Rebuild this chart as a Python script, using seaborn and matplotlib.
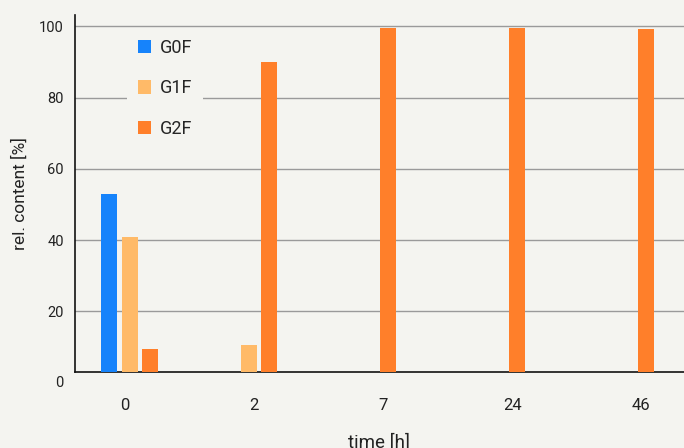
import numpy as np
import pandas as pd
import matplotlib
matplotlib.use('Agg')
import matplotlib.pyplot as plt
import matplotlib.transforms as mtransforms
import seaborn as sns

# data
times = ['0', '2', '7', '24', '46']
series = ['G0F', 'G1F', 'G2F']
g0f = [53.0, np.nan, np.nan, np.nan, np.nan]
g1f = [41.0, 10.7, np.nan, np.nan, np.nan]
g2f = [9.6, 90.0, 99.5, 99.5, 99.2]
colors = ['#1683fb', '#ffba68', '#ff7f2a']
bg = '#f4f4f0'

# long table, bars of each group centred on the group position
step = 0.159
rows = []
for i, t in enumerate(times):
    present = [(s, v[i]) for s, v in zip(series, [g0f, g1f, g2f]) if not np.isnan(v[i])]
    n = len(present)
    for k, (s, v) in enumerate(present):
        rows.append({'pos': i + 0.035 + (k - (n - 1) / 2) * step, 'series': s, 'value': v})
df = pd.DataFrame(rows)

sns.set_theme(style='white')
plt.rcParams['font.family'] = ['Roboto', 'DejaVu Sans']

fig = plt.figure(figsize=(6.84, 4.48), dpi=100, facecolor=bg)
ax = fig.add_axes([0.1096, 0.1696, 0.8904, 0.797])
ax.set_facecolor(bg)

sns.barplot(data=df, x='pos', y='value', hue='series', hue_order=series,
            palette=colors, native_scale=True, dodge=False, width=0.124 / step,
            saturation=1, linewidth=0, ax=ax, zorder=3)

ax.set_ylim(3, 103.2)
ax.set_xlim(-0.39, 4.33)
ax.set_yticks([20, 40, 60, 80, 100])
ax.set_xticks(range(len(times)))
ax.set_xticklabels(times)
ax.yaxis.grid(True, color='#9a9a9a', linewidth=1)
ax.set_axisbelow(True)
ax.tick_params(axis='y', length=0, pad=8, labelsize=10.5, colors='#222222')
ax.tick_params(axis='x', length=0, pad=19, labelsize=12, colors='#222222')
for side in ['top', 'right']:
    ax.spines[side].set_visible(False)
for side in ['left', 'bottom']:
    ax.spines[side].set_color('#111111')
    ax.spines[side].set_linewidth(1.2)

# zero label sits below the clipped baseline
zero_tr = mtransforms.offset_copy(ax.get_yaxis_transform(), fig=fig, x=-8, units='points')
ax.text(0, 0, '0', transform=zero_tr, ha='right', va='center',
        fontsize=10.5, color='#222222', clip_on=False)

ax.set_xlabel('time [h]', fontsize=13.5, labelpad=14, color='#222222')
ax.set_ylabel('rel. content [%]', fontsize=12.5, labelpad=8, color='#222222')

leg = ax.legend(loc='upper left', bbox_to_anchor=(0.085, 0.964), borderaxespad=0,
                frameon=True, facecolor=bg, edgecolor='none', framealpha=1,
                fontsize=13, labelspacing=1.25, handlelength=0.75, handleheight=0.75,
                handletextpad=0.5, borderpad=0.6, fancybox=False)
leg.set_zorder(5)

fig.savefig('out.png', dpi=100, facecolor=bg)
